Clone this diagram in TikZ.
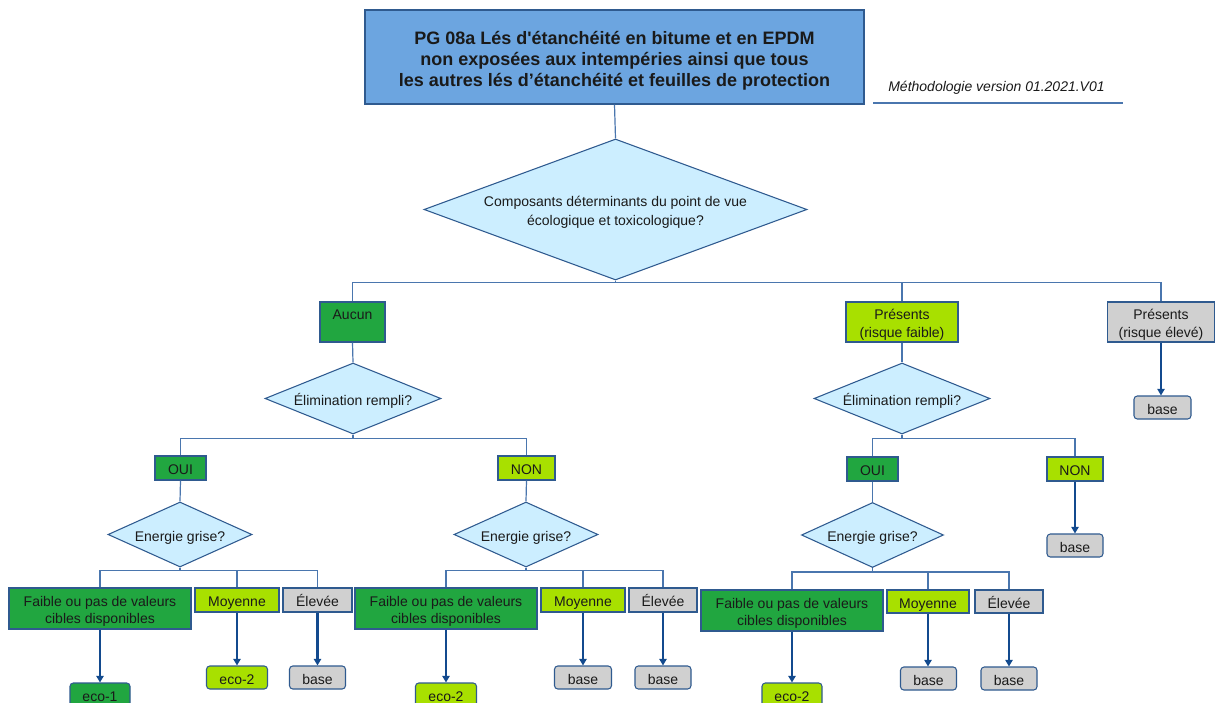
\documentclass[tikz,border=0pt]{standalone}
\usepackage{fontspec}
\setmainfont{Liberation Sans}
\usetikzlibrary{shapes.geometric,arrows.meta}
\definecolor{dgreen}{HTML}{21A640}
\definecolor{lgreen}{HTML}{A8E000}
\definecolor{lgrey}{HTML}{D0D0D0}
\definecolor{dfill}{HTML}{CCEEFF}
\definecolor{tfill}{HTML}{6CA5E0}
\definecolor{bord}{HTML}{2F5A8F}
\definecolor{conn}{HTML}{4A76AE}
\definecolor{arr}{HTML}{134A8E}
\definecolor{txt}{HTML}{1A1A1A}
\newcommand{\topstrut}{\rule{0pt}{1.15em}}
\newcommand{\botstrut}{\rule[-0.21em]{0pt}{0.21em}}
\begin{document}
\begin{tikzpicture}[x=0.75pt,y=-0.75pt,
 sz/.style 2 args={minimum width=#1*0.75pt,minimum height=#2*0.75pt},
 bx/.style={draw=bord,line width=0.8pt,inner sep=0pt,align=center,text=txt,
   font=\fontsize{10.5}{13}\selectfont},
 tx/.style={execute at begin node=\topstrut, execute at end node=\botstrut},
 dk/.style={bx,tx,fill=dgreen},
 lt/.style={bx,tx,fill=lgreen},
 gr/.style={bx,tx,fill=lgrey},
 res/.style={rounded corners=2.5pt},
 dia/.style={bx,tx,shape=diamond,fill=dfill},
 ln/.style={draw=conn,line width=0.9pt},
 ar/.style={draw=arr,line width=2.1pt,-{Triangle[length=5pt,width=5.5pt]}}]
\clip (0,0) rectangle (1215,703);
\fill[white] (0,0) rectangle (1215,703);

% title
\node[bx,tx,fill=tfill,sz={499}{94},font=\fontsize{13.5}{15.75}\selectfont\bfseries] (title) at (614.5,57)
 {\topstrut PG 08a Lés d\textquotesingle étanchéité en bitume et en EPDM\\non exposées aux intempéries ainsi que tous\\les autres lés d’étanchéité et feuilles de protection};
\node[text=txt,font=\fontsize{10.5}{12.75}\selectfont\itshape] (meth) at (996.5,88) {Méthodologie version 01.2021.V01};
\draw[draw=conn,line width=0.8pt] (873,103) -- (1123,103);

% top diamond
\node[dia,shape aspect=2.7,sz={383}{141},font=\fontsize{10.5}{14}\selectfont] (top) at (615.5,209.5) {\topstrut Composants déterminants du point de vue\\écologique et toxicologique?};

% level 1
\node[dk,sz={65}{40},font=\fontsize{10.5}{13.75}\selectfont] (aucun) at (352.5,322) {\topstrut Aucun\\\phantom{(}};
\node[lt,sz={112}{40},font=\fontsize{10.5}{13.75}\selectfont] (presF) at (902,322) {\topstrut Présents\\(risque faible)};
\node[gr,sz={107}{40},font=\fontsize{10.5}{13.75}\selectfont] (presE) at (1161,322) {\topstrut Présents\\(risque élevé)};
\node[gr,res,sz={57}{23}] (baseE) at (1162.5,407.5) {base};

% elimination diamonds
\node[dia,shape aspect=2.48,sz={176}{71}] (elimL) at (353,398.5) {Élimination rempli?};
\node[dia,shape aspect=2.48,sz={176}{71}] (elimR) at (902,398.5) {Élimination rempli?};

% OUI / NON
\node[dk,sz={51}{24}] (ouiL) at (180.5,468) {OUI};
\node[lt,sz={57}{24}] (nonL) at (526.5,468) {NON};
\node[dk,sz={51}{24}] (ouiR) at (872.5,469) {OUI};
\node[lt,sz={56}{24}] (nonR) at (1075,469) {NON};
\node[gr,res,sz={56}{23}] (baseN) at (1075,545.5) {base};

% energie grise diamonds
\node[dia,shape aspect=2.2,sz={144}{65}] (egL) at (180,534.5) {Energie grise?};
\node[dia,shape aspect=2.2,sz={144}{65}] (egM) at (526,534.5) {Energie grise?};
\node[dia,shape aspect=2.2,sz={142}{65}] (egR) at (872.5,535) {Energie grise?};

% bottom row left
\node[dk,sz={182}{41}] (fL) at (100,608.5) {\topstrut Faible ou pas de valeurs\\cibles disponibles};
\node[lt,sz={84}{24}] (mL) at (237,600) {Moyenne};
\node[gr,sz={69}{24}] (eL) at (317.5,600) {Élevée};
\node[dk,res,sz={60}{23}] (r1) at (100,694.5) {eco-1};
\node[lt,res,sz={61}{23}] (r2) at (237,677.5) {eco-2};
\node[gr,res,sz={56}{23}] (r3) at (317.5,677.5) {base};

% bottom row middle
\node[dk,sz={182}{41}] (fM) at (446,608.5) {\topstrut Faible ou pas de valeurs\\cibles disponibles};
\node[lt,sz={84}{24}] (mM) at (583,600) {Moyenne};
\node[gr,sz={68}{24}] (eM) at (663,600) {Élevée};
\node[lt,res,sz={61}{23}] (r4) at (446,694.5) {eco-2};
\node[gr,res,sz={57}{23}] (r5) at (583,677.5) {base};
\node[gr,res,sz={56}{23}] (r6) at (663,677.5) {base};

% bottom row right
\node[dk,sz={182}{41}] (fR) at (792,610.5) {\topstrut Faible ou pas de valeurs\\cibles disponibles};
\node[lt,sz={82}{23}] (mR) at (928,601.5) {Moyenne};
\node[gr,sz={68}{23}] (eR) at (1009,601.5) {Élevée};
\node[lt,res,sz={60}{23}] (r7) at (792,694.5) {eco-2};
\node[gr,res,sz={56}{23}] (r8) at (928.5,678.5) {base};
\node[gr,res,sz={56}{23}] (r9) at (1009,678.5) {base};

% connectors
\draw[ln] (title.south) -- (top.north);
\draw[ln] (top.south) -- ++(0,2) -| (aucun.north);
\draw[ln] (top.south) -- ++(0,2) -| (presF.north);
\draw[ln] (top.south) -- ++(0,2) -| (presE.north);
\draw[ln] (aucun.south) -- (elimL.north);
\draw[ln] (presF.south) -- (elimR.north);
\draw[ln] (elimL.south) -- ++(0,4) -| (ouiL.north);
\draw[ln] (elimL.south) -- ++(0,4) -| (nonL.north);
\draw[ln] (elimR.south) -- ++(0,4) -| (ouiR.north);
\draw[ln] (elimR.south) -- ++(0,4) -| (nonR.north);
\draw[ln] (ouiL.south) -- (egL.north);
\draw[ln] (nonL.south) -- (egM.north);
\draw[ln] (ouiR.south) -- (egR.north);
\draw[ln] (egL.south) -- ++(0,3) -| (fL.north);
\draw[ln] (egL.south) -- ++(0,3) -| (mL.north);
\draw[ln] (egL.south) -- ++(0,3) -| (eL.north);
\draw[ln] (egM.south) -- ++(0,3) -| (fM.north);
\draw[ln] (egM.south) -- ++(0,3) -| (mM.north);
\draw[ln] (egM.south) -- ++(0,3) -| (eM.north);
\draw[ln] (egR.south) -- ++(0,4) -| (fR.north);
\draw[ln] (egR.south) -- ++(0,4) -| (mR.north);
\draw[ln] (egR.south) -- ++(0,4) -| (eR.north);

% arrows
\draw[ar] (presE.south) -- (presE.south |- baseE.north);
\draw[ar] (nonR.south) -- (nonR.south |- baseN.north);
\draw[ar] (fL.south) -- (fL.south |- r1.north);
\draw[ar] (mL.south) -- (mL.south |- r2.north);
\draw[ar] (eL.south) -- (eL.south |- r3.north);
\draw[ar] (fM.south) -- (fM.south |- r4.north);
\draw[ar] (mM.south) -- (mM.south |- r5.north);
\draw[ar] (eM.south) -- (eM.south |- r6.north);
\draw[ar] (fR.south) -- (fR.south |- r7.north);
\draw[ar] (mR.south) -- (mR.south |- r8.north);
\draw[ar] (eR.south) -- (eR.south |- r9.north);
\end{tikzpicture}
\end{document}
